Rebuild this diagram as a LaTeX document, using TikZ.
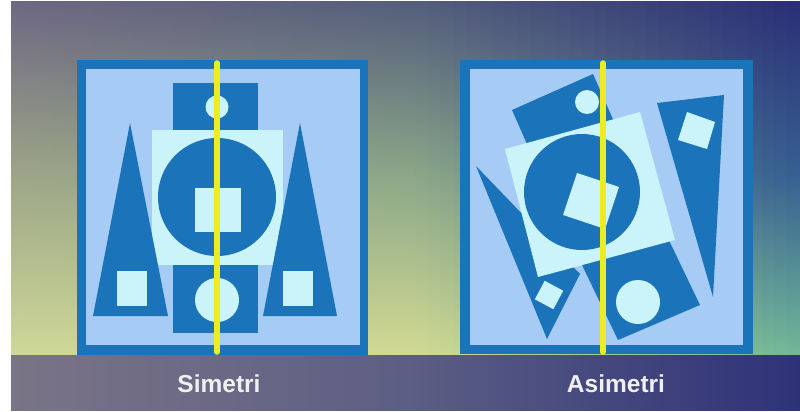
\documentclass[tikz,border=0pt]{standalone}
\usepackage{fontspec}
\setmainfont{Liberation Sans}
\begin{document}
\begin{tikzpicture}[x=1pt,y=-1pt]
\definecolor{frame}{RGB}{27,116,185}
\definecolor{lite}{RGB}{166,204,246}
\definecolor{cyanl}{RGB}{202,244,250}
\definecolor{yel}{RGB}{236,236,32}
\definecolor{LT}{RGB}{110,104,130}
\definecolor{LM}{RGB}{158,166,136}
\definecolor{LB}{RGB}{206,216,152}
\definecolor{MT}{RGB}{84,94,124}
\definecolor{MM}{RGB}{140,168,136}
\definecolor{MB}{RGB}{210,218,146}
\definecolor{RT}{RGB}{42,46,118}
\definecolor{RM}{RGB}{54,96,146}
\definecolor{RB}{RGB}{112,184,152}
\definecolor{GL}{RGB}{122,116,134}
\definecolor{GM}{RGB}{92,94,132}
\definecolor{GR}{RGB}{46,50,120}
\definecolor{txt}{RGB}{240,240,240}
\tikzset{
  dk/.style={fill=frame},
  lt/.style={fill=lite},
  cy/.style={fill=cyanl},
  axisline/.style={draw=yel, line width=5.5pt, line cap=round},
  lbl/.style={text=txt, font=\fontsize{24.5}{28}\selectfont\bfseries, anchor=base, inner sep=0pt}
}
\useasboundingbox (0,0) rectangle (800,412);
\fill[white] (0,0) rectangle (800,412);
% background: left half
\foreach \i in {0,...,29} {
  \pgfmathsetmacro{\xa}{11+\i*13.4667}
  \pgfmathsetmacro{\xb}{\xa+14.2}
  \pgfmathtruncatemacro{\p}{round((\i+0.5)*100/30)}
  \colorlet{cT}{MT!\p!LT}
  \colorlet{cM}{MM!\p!LM}
  \colorlet{cB}{MB!\p!LB}
  \shade[top color=cT, bottom color=cB, middle color=cM] (\xa,2) rectangle (\xb,355);
}
% background: right half
\foreach \i in {0,...,29} {
  \pgfmathsetmacro{\xa}{415+\i*12.8333}
  \pgfmathsetmacro{\xb}{min(\xa+13.5,800)}
  \pgfmathtruncatemacro{\p}{round((\i+0.5)*100/30)}
  \colorlet{cT}{RT!\p!MT}
  \colorlet{cM}{RM!\p!MM}
  \colorlet{cB}{RB!\p!MB}
  \shade[top color=cT, bottom color=cB, middle color=cM] (\xa,2) rectangle (\xb,355);
}
% ground band
\shade[left color=GL, right color=GR, middle color=GM] (11,355) rectangle (800,410);

% ---------------- left panel (symmetric) ----------------
\fill[dk] (77,60) rectangle (368,355);
\fill[lt] (86,69) rectangle (360,345);
\fill[dk] (173,83) rectangle (258,131);
\fill[cy] (217,107) circle[radius=11.5pt];
\fill[cy] (152,130) rectangle (283,265);
\fill[dk] (217,197) circle[radius=59pt];
\fill[cy] (195,188) rectangle (241,232);
\fill[dk] (173,265) rectangle (258,333);
\fill[cy] (217,300) circle[radius=22pt];
\fill[dk] (130,123) -- (93,316) -- (168,316) -- cycle;
\fill[cy] (117,271) rectangle (147,306);
\fill[dk] (300,123) -- (263,316) -- (337,316) -- cycle;
\fill[cy] (283,271) rectangle (313,306);
\draw[axisline] (217,63) -- (217,352);

% ---------------- right panel (asymmetric) ----------------
\fill[dk] (460,60) rectangle (753,354);
\fill[lt] (470,69) rectangle (743,345);
\fill[dk] (512,110) -- (593,74) -- (619,133) -- (538,169) -- cycle;
\fill[cy] (587,102) circle[radius=12pt];
\fill[dk] (476,166) -- (580,274) -- (547,339) -- cycle;
\fill[dk] (657,103) -- (724,95) -- (713,297) -- cycle;
\fill[dk] (618,340) -- (700,305) -- (659,219.5) -- (577,254.5) -- cycle;
\fill[cy] (638,302) circle[radius=22pt];
\fill[cy] (505,149) -- (640,112) -- (675,240) -- (538,277) -- cycle;
\fill[dk] (582,192) circle[radius=58pt];
\fill[cy] (577,173) -- (619,187) -- (605,229) -- (563,215) -- cycle;
\fill[cy] (544.7,280.8) -- (563.2,290.7) -- (553.4,309.2) -- (534.8,299.3) -- cycle;
\fill[cy] (687,112) -- (715,122) -- (707,149) -- (678,140) -- cycle;
\draw[axisline] (603,63) -- (603,352);

% labels
\node[lbl] (simetri) at (219,392) {Simetri};
\node[lbl] (asimetri) at (616,392) {Asimetri};
\end{tikzpicture}
\end{document}
